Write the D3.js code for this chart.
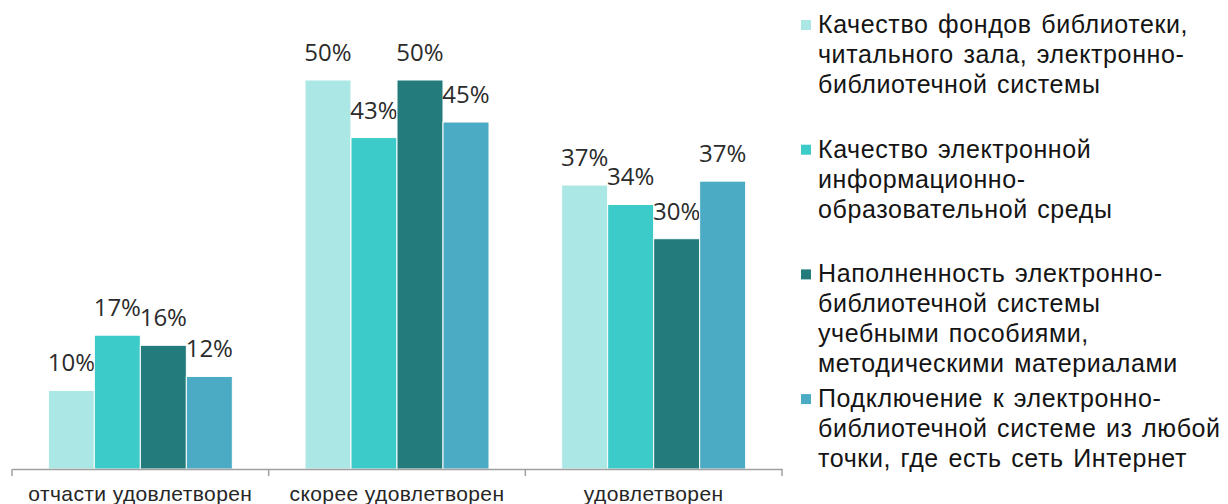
<!DOCTYPE html>
<html><head><meta charset="utf-8">
<script src="https://cdnjs.cloudflare.com/ajax/libs/d3/7.8.5/d3.min.js"></script>
<style>
html,body{margin:0;padding:0;background:#fff;}
svg{display:block;}
</style>
</head><body>
<svg id="chart" width="1228" height="504"></svg>
<script>
const categories = ["отчасти удовлетворен", "скорее удовлетворен", "удовлетворен"];
const seriesNames = [
  ["Качество фондов библиотеки,", "читального зала, электронно-", "библиотечной системы"],
  ["Качество электронной", "информационно-", "образовательной среды"],
  ["Наполненность электронно-", "библиотечной системы", "учебными пособиями,", "методическими материалами"],
  ["Подключение к электронно-", "библиотечной системе из любой", "точки, где есть сеть Интернет"]
];
const s1 = [10.1, 50.0, 36.5];
const s2 = [17.2, 42.6, 34.0];
const s3 = [15.9, 50.0, 29.6];
const s4 = [11.9, 44.6, 37.0];
const seriesValues = [s1, s2, s3, s4];
const colors = ["#aae7e5", "#3ccbc8", "#247b7c", "#4babc4"];

const svg = d3.select("#chart");
const x0 = d3.scaleBand().domain(categories).range([12, 782]).paddingInner(0).paddingOuter(0);
const inner = d3.scaleBand().domain(d3.range(4)).range([0, x0.bandwidth()]).paddingInner(0.0).paddingOuter(0.79);
const y = d3.scaleLinear().domain([0, 50]).range([469, 80]);

const g = svg.append("g");
categories.forEach((c, ci) => {
  seriesValues.forEach((vals, si) => {
    const xPos = x0(c) + inner(si);
    g.append("rect")
      .attr("x", xPos)
      .attr("y", y(vals[ci]))
      .attr("width", inner.bandwidth())
      .attr("height", y(0) - y(vals[ci]))
      .attr("fill", colors[si])
      .attr("stroke", "#fff")
      .attr("stroke-width", 1);
    g.append("text")
      .attr("x", xPos + inner.bandwidth() / 2)
      .attr("y", y(vals[ci]) - 19)
      .attr("text-anchor", "middle")
      .attr("font-family", "'Open Sans', sans-serif")
      .attr("font-size", 24)
      .attr("fill", "#2b2b2b")
      .text(Math.round(vals[ci]) + "%");
  });
});

const axis = d3.axisBottom(x0).tickSize(0).tickPadding(0);
const ax = svg.append("g").attr("transform", "translate(0,469)").call(axis);
ax.select(".domain").attr("stroke", "#a0a0a0").attr("stroke-width", 1.5);
ax.selectAll(".tick text")
  .attr("y", 32)
  .attr("dy", 0)
  .attr("font-family", "'Liberation Sans', Arial, sans-serif")
  .attr("font-size", 21)
  .attr("letter-spacing", 0.4)
  .attr("fill", "#262626");
const bounds = categories.map(c => x0(c)).concat([x0.range()[1]]);
ax.selectAll(".bnd").data(bounds).enter().append("line")
  .attr("class", "bnd")
  .attr("x1", d => d).attr("x2", d => d)
  .attr("y1", 0).attr("y2", 7)
  .attr("stroke", "#a0a0a0").attr("stroke-width", 1.5);

const legend = svg.append("g");
seriesNames.forEach((lines, i) => {
  const baseY = 33 + i * 124.7;
  legend.append("rect")
    .attr("x", 801).attr("y", baseY - 13)
    .attr("width", 10).attr("height", 10)
    .attr("fill", colors[i]);
  const t = legend.append("text")
    .attr("font-family", "'Liberation Sans', Arial, sans-serif")
    .attr("font-size", 25)
    .attr("letter-spacing", 0.6)
    .attr("word-spacing", 2)
    .attr("fill", "#141414");
  lines.forEach((ln, li) => {
    t.append("tspan").attr("x", 818).attr("y", baseY + li * 30).text(ln);
  });
});
</script>
</body></html>
